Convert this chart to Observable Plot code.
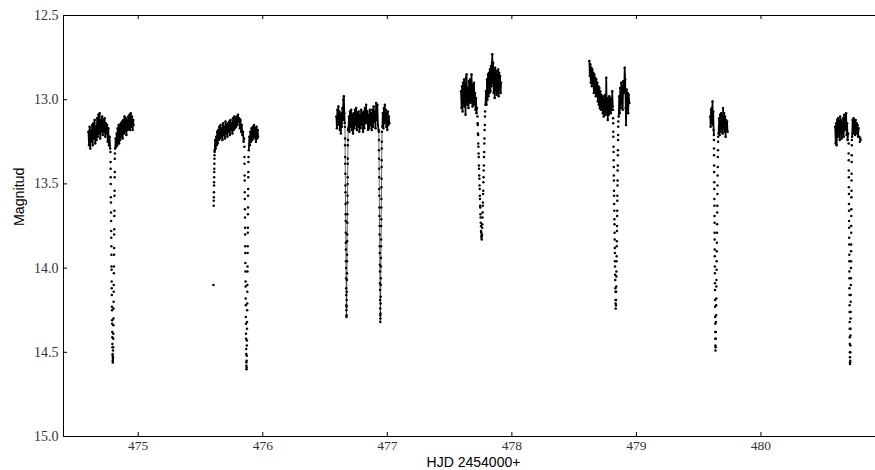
<!DOCTYPE html>
<html><head><meta charset="utf-8">
<script src="https://cdn.jsdelivr.net/npm/d3@7"></script>
<script src="https://cdn.jsdelivr.net/npm/@observablehq/plot@0.6"></script>
<style>body{margin:0;background:#fff;} #chart{width:875px;height:470px;overflow:hidden;}</style>
</head><body><div id="chart"></div>
<script>
// Axis settings
const xDomain = [474.4, 481.0];
const yDomain = [12.5, 15.0];
const xTicks = [475, 476, 477, 478, 479, 480];
const yTicks = [12.5, 13.0, 13.5, 14.0, 14.5, 15.0];
const xLabel = "HJD 2454000+";
const yLabel = "Magnitud";

// Light curve: [HJD - 2454000, magnitude]
const night1Before = [[474.600,13.19],[474.605,13.27],[474.610,13.16],[474.615,13.29],[474.620,13.18],[474.625,13.25],[474.630,13.15],[474.635,13.27],[474.640,13.14],[474.645,13.23],[474.650,13.12],[474.655,13.26],[474.660,13.16],[474.665,13.24],[474.670,13.11],[474.675,13.22],[474.680,13.09],[474.685,13.20],[474.690,13.08],[474.695,13.23],[474.700,13.12],[474.705,13.19],[474.710,13.10],[474.715,13.21],[474.720,13.12],[474.725,13.19],[474.730,13.11],[474.735,13.22],[474.740,13.14],[474.745,13.20],[474.750,13.15],[474.755,13.25],[474.760,13.17],[474.765,13.27],[474.770,13.22],[474.775,13.29]];
const night1Dip = [[474.7770,13.31],[474.7777,13.37],[474.7783,13.41],[474.7790,13.46],[474.7796,13.50],[474.7803,13.58],[474.7809,13.61],[474.7816,13.67],[474.7822,13.72],[474.7829,13.78],[474.7835,13.82],[474.7842,13.87],[474.7848,13.92],[474.7855,13.99],[474.7861,14.01],[474.7868,14.08],[474.7874,14.12],[474.7881,14.16],[474.7887,14.23],[474.7894,14.25],[474.7900,14.31],[474.7907,14.33],[474.7913,14.38],[474.7920,14.41],[474.7926,14.45],[474.7933,14.47],[474.7939,14.51],[474.7946,14.52],[474.7952,14.55],[474.7959,14.56],[474.7965,14.54],[474.7972,14.53],[474.7978,14.49],[474.7985,14.47],[474.7991,14.42],[474.7998,14.39],[474.8004,14.34],[474.8011,14.30],[474.8017,14.24],[474.8024,14.20],[474.8030,14.14],[474.8037,14.10],[474.8043,14.03],[474.8050,13.99],[474.8056,13.92],[474.8063,13.88],[474.8069,13.80],[474.8076,13.77],[474.8082,13.69],[474.8089,13.66],[474.8095,13.57],[474.8102,13.54],[474.8108,13.46],[474.8115,13.43],[474.8121,13.35],[474.8128,13.32]];
const night1After = [[474.815,13.29],[474.819,13.23],[474.823,13.28],[474.827,13.20],[474.831,13.27],[474.835,13.17],[474.839,13.25],[474.843,13.15],[474.847,13.26],[474.851,13.16],[474.855,13.24],[474.860,13.14],[474.865,13.22],[474.870,13.13],[474.875,13.23],[474.880,13.12],[474.885,13.20],[474.890,13.10],[474.895,13.19],[474.900,13.11],[474.905,13.21],[474.910,13.12],[474.915,13.18],[474.920,13.10],[474.925,13.17],[474.930,13.09],[474.935,13.18],[474.940,13.08],[474.945,13.16],[474.950,13.10],[474.955,13.18],[474.960,13.12],[474.962,13.15]];

const night2Start = [[475.604,14.10],[475.6060,13.63],[475.6066,13.60],[475.6072,13.58],[475.6078,13.55],[475.6084,13.51],[475.6090,13.49],[475.6096,13.46],[475.6102,13.43],[475.6108,13.41],[475.6114,13.38],[475.6120,13.35],[475.6126,13.33],[475.6132,13.31]];
const night2Before = [[475.614,13.30],[475.618,13.24],[475.622,13.29],[475.626,13.22],[475.630,13.27],[475.634,13.19],[475.638,13.26],[475.642,13.18],[475.646,13.24],[475.651,13.16],[475.656,13.23],[475.661,13.15],[475.666,13.22],[475.671,13.17],[475.676,13.24],[475.681,13.14],[475.686,13.21],[475.691,13.16],[475.696,13.23],[475.701,13.13],[475.706,13.20],[475.711,13.15],[475.716,13.22],[475.721,13.14],[475.726,13.19],[475.731,13.13],[475.736,13.21],[475.741,13.12],[475.746,13.18],[475.751,13.14],[475.756,13.20],[475.761,13.11],[475.766,13.18],[475.771,13.10],[475.776,13.17],[475.781,13.11],[475.786,13.16],[475.791,13.10],[475.796,13.15],[475.801,13.09],[475.806,13.13],[475.811,13.11],[475.816,13.17],[475.821,13.12],[475.826,13.19],[475.831,13.15],[475.836,13.21],[475.841,13.19],[475.846,13.25],[475.850,13.23]];
const night2Dip = [[475.8520,13.28],[475.8526,13.34],[475.8533,13.38],[475.8539,13.45],[475.8546,13.48],[475.8552,13.55],[475.8558,13.59],[475.8565,13.65],[475.8571,13.70],[475.8578,13.76],[475.8584,13.80],[475.8590,13.87],[475.8597,13.91],[475.8603,13.97],[475.8610,14.02],[475.8616,14.08],[475.8622,14.11],[475.8629,14.18],[475.8635,14.22],[475.8642,14.29],[475.8648,14.33],[475.8654,14.39],[475.8661,14.42],[475.8667,14.48],[475.8674,14.51],[475.8680,14.56],[475.8686,14.58],[475.8693,14.60],[475.8699,14.59],[475.8706,14.55],[475.8712,14.52],[475.8718,14.46],[475.8725,14.43],[475.8731,14.36],[475.8738,14.32],[475.8744,14.25],[475.8750,14.21],[475.8757,14.14],[475.8763,14.10],[475.8770,14.02],[475.8776,13.99],[475.8782,13.91],[475.8789,13.87],[475.8795,13.79],[475.8802,13.76],[475.8808,13.68],[475.8814,13.64],[475.8821,13.57],[475.8827,13.53],[475.8834,13.46],[475.8840,13.43],[475.8846,13.37],[475.8853,13.34]];
const night2After = [[475.888,13.30],[475.892,13.22],[475.896,13.27],[475.900,13.19],[475.905,13.25],[475.910,13.17],[475.915,13.24],[475.920,13.16],[475.925,13.23],[475.930,13.15],[475.935,13.22],[475.940,13.17],[475.945,13.25],[475.950,13.16],[475.955,13.23],[475.960,13.18],[475.962,13.22]];

const night3Before = [[476.591,13.10],[476.595,13.17],[476.599,13.06],[476.603,13.15],[476.607,13.04],[476.611,13.13],[476.615,13.07],[476.619,13.18],[476.623,13.09],[476.627,13.20],[476.631,13.08],[476.635,13.16],[476.639,13.05],[476.643,13.12],[476.647,13.00],[476.651,12.98],[476.655,13.08],[476.658,13.14]];
const night3Dip1 = [[476.6600,13.16],[476.6606,13.23],[476.6611,13.27],[476.6617,13.34],[476.6623,13.38],[476.6629,13.44],[476.6634,13.51],[476.6640,13.55],[476.6646,13.62],[476.6651,13.68],[476.6657,13.72],[476.6663,13.79],[476.6669,13.85],[476.6674,13.89],[476.6680,13.96],[476.6686,14.00],[476.6691,14.06],[476.6697,14.12],[476.6703,14.16],[476.6709,14.22],[476.6714,14.25],[476.6720,14.29],[476.6727,14.28],[476.6733,14.23],[476.6739,14.19],[476.6745,14.14],[476.6751,14.07],[476.6757,14.03],[476.6763,13.96],[476.6769,13.92],[476.6775,13.84],[476.6781,13.80],[476.6787,13.73],[476.6793,13.68],[476.6799,13.61],[476.6805,13.57],[476.6811,13.50],[476.6817,13.46],[476.6823,13.38],[476.6829,13.35],[476.6835,13.27],[476.6841,13.24],[476.6847,13.18]];
const night3Between = [[476.688,13.17],[476.692,13.10],[476.696,13.19],[476.700,13.07],[476.705,13.16],[476.710,13.06],[476.715,13.18],[476.720,13.09],[476.725,13.20],[476.730,13.08],[476.735,13.17],[476.740,13.06],[476.745,13.15],[476.750,13.05],[476.755,13.18],[476.760,13.08],[476.765,13.16],[476.770,13.07],[476.775,13.19],[476.780,13.09],[476.785,13.17],[476.790,13.06],[476.795,13.15],[476.800,13.08],[476.805,13.19],[476.810,13.07],[476.815,13.17],[476.820,13.05],[476.825,13.14],[476.830,13.03],[476.835,13.13],[476.840,13.07],[476.845,13.18],[476.850,13.09],[476.855,13.17],[476.860,13.06],[476.865,13.15],[476.870,13.08],[476.875,13.18],[476.880,13.06],[476.885,13.16],[476.890,13.04],[476.895,13.13],[476.900,13.07],[476.905,13.17],[476.910,13.02],[476.915,13.12],[476.920,13.03],[476.925,13.15],[476.930,13.18]];
const night3Dip2 = [[476.9320,13.19],[476.9326,13.24],[476.9331,13.30],[476.9337,13.35],[476.9343,13.41],[476.9349,13.46],[476.9354,13.53],[476.9360,13.57],[476.9366,13.64],[476.9371,13.69],[476.9377,13.75],[476.9383,13.80],[476.9389,13.87],[476.9394,13.91],[476.9400,13.98],[476.9406,14.02],[476.9411,14.09],[476.9417,14.13],[476.9423,14.19],[476.9429,14.24],[476.9434,14.28],[476.9440,14.32],[476.9447,14.30],[476.9453,14.27],[476.9459,14.21],[476.9465,14.17],[476.9471,14.10],[476.9477,14.06],[476.9483,13.99],[476.9489,13.94],[476.9495,13.87],[476.9501,13.83],[476.9507,13.75],[476.9513,13.71],[476.9519,13.64],[476.9525,13.59],[476.9531,13.52],[476.9537,13.47],[476.9543,13.40],[476.9549,13.36],[476.9555,13.29],[476.9561,13.25],[476.9567,13.19]];
const night3After = [[476.960,13.16],[476.964,13.08],[476.968,13.17],[476.972,13.05],[476.976,13.14],[476.980,13.03],[476.984,13.12],[476.988,13.06],[476.992,13.16],[476.996,13.08],[477.000,13.18],[477.004,13.07],[477.008,13.15],[477.012,13.10],[477.016,13.14]];

const night4Before = [[477.592,12.95],[477.596,13.05],[477.600,12.92],[477.604,13.07],[477.608,12.90],[477.612,13.02],[477.616,12.88],[477.620,13.04],[477.624,12.91],[477.628,13.09],[477.632,12.87],[477.636,12.85],[477.640,12.96],[477.644,13.03],[477.648,12.93],[477.652,13.05],[477.656,12.89],[477.660,13.01],[477.664,12.88],[477.668,13.02],[477.672,12.92],[477.676,12.85],[477.680,12.96],[477.684,13.04],[477.688,12.91],[477.692,13.03],[477.696,12.90],[477.700,13.01],[477.704,12.96],[477.708,13.06],[477.712,12.99],[477.716,13.08],[477.720,13.05]];
const night4Dip = [[477.7240,13.10],[477.7252,13.14],[477.7265,13.15],[477.7277,13.20],[477.7290,13.21],[477.7302,13.26],[477.7315,13.28],[477.7327,13.32],[477.7340,13.34],[477.7352,13.39],[477.7365,13.41],[477.7377,13.45],[477.7390,13.47],[477.7402,13.51],[477.7415,13.53],[477.7427,13.57],[477.7440,13.59],[477.7452,13.63],[477.7465,13.64],[477.7477,13.68],[477.7490,13.70],[477.7502,13.73],[477.7515,13.75],[477.7527,13.78],[477.7540,13.79],[477.7552,13.81],[477.7565,13.82],[477.7577,13.83],[477.7590,13.81],[477.7602,13.80],[477.7615,13.76],[477.7627,13.74],[477.7640,13.70],[477.7652,13.67],[477.7665,13.63],[477.7677,13.61],[477.7690,13.56],[477.7702,13.54],[477.7715,13.49],[477.7727,13.46],[477.7740,13.42],[477.7752,13.39],[477.7765,13.34],[477.7777,13.31],[477.7790,13.26],[477.7802,13.23],[477.7815,13.18],[477.7827,13.15],[477.7840,13.10],[477.7852,13.07]];
const night4After = [[477.788,13.03],[477.792,12.95],[477.796,13.03],[477.800,12.88],[477.804,13.00],[477.808,12.85],[477.812,12.98],[477.816,12.84],[477.820,12.96],[477.824,12.82],[477.828,12.95],[477.832,12.80],[477.836,12.92],[477.840,12.78],[477.843,12.73],[477.846,12.90],[477.850,12.78],[477.854,12.96],[477.858,12.83],[477.862,12.99],[477.866,12.81],[477.870,12.94],[477.874,12.83],[477.878,12.97],[477.882,12.85],[477.886,12.95],[477.890,12.82],[477.894,12.98],[477.898,12.84],[477.902,12.93],[477.906,12.86],[477.910,12.96],[477.913,12.90]];

const night5Before = [[478.622,12.77],[478.626,12.86],[478.630,12.79],[478.634,12.90],[478.638,12.81],[478.642,12.92],[478.646,12.82],[478.650,12.89],[478.654,12.84],[478.658,12.96],[478.662,12.85],[478.666,12.94],[478.670,12.87],[478.674,12.98],[478.678,12.88],[478.682,12.96],[478.686,12.90],[478.690,13.01],[478.694,12.92],[478.698,13.03],[478.702,12.93],[478.706,13.05],[478.710,12.95],[478.714,13.06],[478.718,12.97],[478.722,13.04],[478.726,12.99],[478.730,13.08],[478.734,12.98],[478.738,13.10],[478.742,13.00],[478.746,13.07],[478.750,12.97],[478.754,13.09],[478.758,12.87],[478.762,13.06],[478.766,12.99],[478.770,13.12],[478.774,13.00],[478.778,13.09],[478.782,12.98],[478.786,13.07],[478.790,13.00],[478.794,13.08],[478.798,12.99],[478.802,13.06],[478.806,12.95],[478.810,13.04]];
const night5Dip = [[478.8120,13.06],[478.8128,13.11],[478.8135,13.14],[478.8143,13.19],[478.8150,13.22],[478.8158,13.28],[478.8165,13.31],[478.8173,13.36],[478.8180,13.40],[478.8188,13.45],[478.8195,13.48],[478.8203,13.54],[478.8210,13.57],[478.8218,13.62],[478.8225,13.66],[478.8233,13.71],[478.8240,13.74],[478.8248,13.79],[478.8255,13.83],[478.8263,13.88],[478.8270,13.91],[478.8278,13.96],[478.8285,13.99],[478.8293,14.04],[478.8300,14.07],[478.8308,14.12],[478.8315,14.14],[478.8323,14.19],[478.8330,14.21],[478.8338,14.24],[478.8360,14.22],[478.8368,14.19],[478.8375,14.14],[478.8383,14.11],[478.8390,14.05],[478.8398,14.02],[478.8405,13.96],[478.8413,13.93],[478.8420,13.87],[478.8428,13.84],[478.8435,13.78],[478.8443,13.75],[478.8450,13.69],[478.8458,13.66],[478.8465,13.60],[478.8473,13.57],[478.8480,13.51],[478.8488,13.48],[478.8495,13.42],[478.8503,13.39],[478.8510,13.33],[478.8518,13.30],[478.8525,13.24],[478.8533,13.21],[478.8540,13.16],[478.8548,13.13]];
const night5After = [[478.858,13.10],[478.862,12.98],[478.866,13.08],[478.870,12.93],[478.874,13.05],[478.878,12.90],[478.882,13.02],[478.886,12.92],[478.890,13.06],[478.894,12.89],[478.898,12.96],[478.902,12.93],[478.906,12.81],[478.910,12.88],[478.914,13.05],[478.917,13.15],[478.922,12.94],[478.926,13.04],[478.930,12.96],[478.934,13.08],[478.938,12.97],[478.943,13.02]];

const night6Before = [[479.593,13.10],[479.596,13.16],[479.599,13.06],[479.602,13.14],[479.605,13.05],[479.608,13.12],[479.611,13.01],[479.614,13.15],[479.617,13.07],[479.620,13.18],[479.622,13.21]];
const night6Dip = [[479.6225,13.24],[479.6230,13.29],[479.6234,13.33],[479.6239,13.39],[479.6244,13.43],[479.6249,13.49],[479.6254,13.53],[479.6258,13.59],[479.6263,13.63],[479.6268,13.69],[479.6273,13.73],[479.6278,13.79],[479.6282,13.83],[479.6287,13.89],[479.6292,13.93],[479.6297,13.99],[479.6302,14.03],[479.6306,14.09],[479.6311,14.13],[479.6316,14.19],[479.6321,14.23],[479.6326,14.29],[479.6330,14.33],[479.6335,14.38],[479.6340,14.42],[479.6345,14.46],[479.6350,14.49],[479.6360,14.47],[479.6368,14.42],[479.6377,14.38],[479.6385,14.32],[479.6394,14.28],[479.6402,14.22],[479.6411,14.18],[479.6419,14.11],[479.6428,14.07],[479.6436,14.01],[479.6445,13.96],[479.6453,13.90],[479.6462,13.85],[479.6470,13.79],[479.6479,13.74],[479.6487,13.67],[479.6496,13.63],[479.6504,13.56],[479.6513,13.51],[479.6521,13.45],[479.6530,13.40],[479.6538,13.34],[479.6547,13.30],[479.6555,13.25],[479.6564,13.22]];
const night6After = [[479.660,13.20],[479.664,13.11],[479.668,13.21],[479.672,13.09],[479.676,13.19],[479.680,13.08],[479.684,13.17],[479.688,13.10],[479.692,13.20],[479.696,13.05],[479.700,13.16],[479.704,13.08],[479.708,13.19],[479.712,13.10],[479.716,13.22],[479.720,13.12],[479.724,13.18],[479.728,13.13],[479.732,13.19]];

const night7Before = [[480.596,13.16],[480.600,13.26],[480.604,13.14],[480.608,13.27],[480.612,13.12],[480.616,13.22],[480.620,13.11],[480.624,13.20],[480.628,13.13],[480.632,13.24],[480.636,13.10],[480.640,13.19],[480.644,13.12],[480.648,13.23],[480.652,13.14],[480.656,13.19],[480.660,13.11],[480.664,13.22],[480.668,13.09],[480.672,13.18],[480.676,13.10],[480.680,13.17],[480.684,13.08],[480.688,13.21],[480.692,13.14],[480.696,13.24],[480.700,13.20]];
const night7Dip = [[480.7040,13.26],[480.7044,13.32],[480.7048,13.36],[480.7052,13.42],[480.7056,13.46],[480.7060,13.52],[480.7064,13.56],[480.7068,13.62],[480.7072,13.66],[480.7076,13.72],[480.7080,13.76],[480.7084,13.82],[480.7088,13.86],[480.7092,13.92],[480.7096,13.96],[480.7100,14.02],[480.7104,14.06],[480.7108,14.12],[480.7112,14.16],[480.7116,14.22],[480.7120,14.26],[480.7124,14.32],[480.7128,14.36],[480.7132,14.41],[480.7136,14.45],[480.7140,14.50],[480.7144,14.53],[480.7148,14.56],[480.7152,14.57],[480.7170,14.55],[480.7175,14.50],[480.7180,14.46],[480.7185,14.40],[480.7190,14.36],[480.7195,14.30],[480.7200,14.26],[480.7205,14.20],[480.7210,14.16],[480.7215,14.10],[480.7220,14.06],[480.7225,14.00],[480.7230,13.96],[480.7235,13.90],[480.7240,13.86],[480.7245,13.79],[480.7250,13.75],[480.7255,13.69],[480.7260,13.65],[480.7265,13.58],[480.7270,13.54],[480.7275,13.48],[480.7280,13.44],[480.7285,13.37],[480.7290,13.33],[480.7295,13.27],[480.7300,13.24]];
const night7After = [[480.732,13.22],[480.736,13.12],[480.740,13.20],[480.744,13.11],[480.748,13.19],[480.752,13.13],[480.756,13.21],[480.760,13.12],[480.764,13.18],[480.768,13.14],[480.772,13.20],[480.776,13.15],[480.780,13.22],[480.784,13.17]];
const night7Tail = [[480.791,13.22],[480.794,13.25],[480.797,13.23],[480.800,13.24]];

const bandRuns = [night1Before, night1After, night2Before, night2After, night3Before, night3Between, night3After, night4Before, night4After, night5Before, night5After, night6Before, night6After, night7Before, night7After];
const denseDips = [night3Dip1, night3Dip2];
const dotRuns = [night1Before, night1Dip, night1After, night2Start, night2Before, night2Dip, night2After, night3Before, night3Dip1, night3Between, night3Dip2, night3After, night4Before, night4Dip, night4After, night5Before, night5Dip, night5After, night6Before, night6Dip, night6After, night7Before, night7Dip, night7After, night7Tail];

const serif = "Liberation Serif, DejaVu Serif, serif";
const sans = "Liberation Sans, Arial, sans-serif";
const X = d => d[0], Y = d => d[1];

const marks = [
  ...bandRuns.map(a => Plot.line(a, {x: X, y: Y, stroke: "#000", strokeWidth: 1.7})),
  ...denseDips.map(a => Plot.line(a, {x: X, y: Y, stroke: "#000", strokeWidth: 0.6})),
  ...dotRuns.map(a => Plot.dot(a, {x: X, y: Y, r: 1.25, fill: "#000", stroke: "none"})),
  Plot.ruleY(yDomain, {stroke: "#000", strokeWidth: 1}),
  Plot.ruleX([xDomain[0]], {stroke: "#000", strokeWidth: 1}),
  Plot.tickX(xTicks, {x: d => d, insetTop: 417, stroke: "#000"}),
  Plot.tickX(xTicks, {x: d => d, insetBottom: 417, stroke: "#000"}),
  Plot.tickY(yTicks, {y: d => d, insetRight: 808, stroke: "#000"}),
  Plot.axisX({ticks: xTicks, anchor: "bottom", tickSize: 0, tickPadding: 4, tickFormat: d => String(d), fontFamily: serif, fontSize: 13.5, fill: "#333", label: null}),
  Plot.axisY({ticks: yTicks, anchor: "left", tickSize: 0, tickPadding: 5, tickFormat: d => d.toFixed(1), fontFamily: serif, fontSize: 14, fill: "#333", label: null}),
  Plot.text([xLabel], {text: d => d, frameAnchor: "bottom", dx: 4, dy: 30, fontFamily: sans, fontSize: 14, fill: "#000"}),
  Plot.text([yLabel], {text: d => d, frameAnchor: "left", dx: -44, rotate: -90, fontFamily: sans, fontSize: 14.2, fill: "#000"})
];

const chart = Plot.plot({
  width: 875, height: 470,
  marginTop: 15, marginBottom: 34, marginLeft: 63, marginRight: 0,
  x: {domain: xDomain, range: [63, 885]},
  y: {domain: yDomain, range: [15, 436]},
  style: {background: "#fff", fontFamily: serif},
  marks
});
document.getElementById("chart").appendChild(chart);
</script>
</body></html>
